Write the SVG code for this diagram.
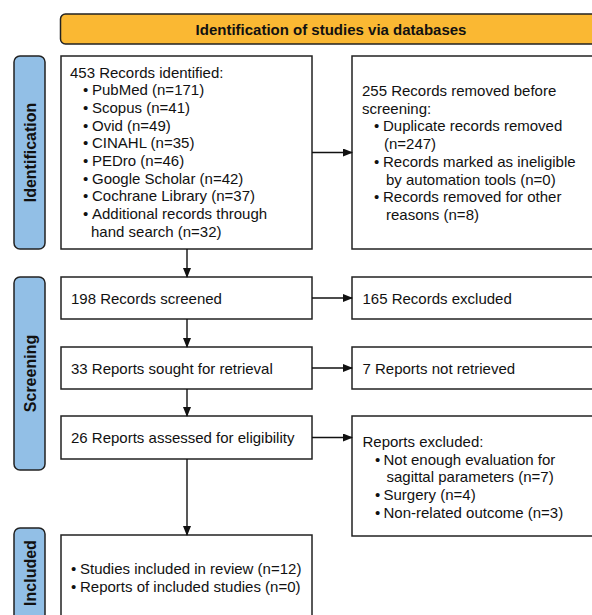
<svg xmlns="http://www.w3.org/2000/svg" width="592" height="615" viewBox="0 0 592 615">
<defs>
<marker id="ah" markerWidth="10" markerHeight="8" refX="9" refY="4" orient="auto" markerUnits="userSpaceOnUse">
<path d="M0,0 L10,4 L0,8 Z" fill="#111"/>
</marker>
</defs>
<style>
text{font-family:"Liberation Sans",Arial,sans-serif;font-size:15px;fill:#111}
.box{fill:#fff;stroke:#222;stroke-width:1.5}
.side{fill:#92bfe6;stroke:#222;stroke-width:1.5}
.banner{fill:#fab833;stroke:#222;stroke-width:1.5}
.b{font-weight:bold}
.s{font-weight:bold;font-size:16px}
.c{stroke:#111;stroke-width:1.4;fill:none;marker-end:url(#ah)}
</style>
<rect width="592" height="615" fill="#fff"/>
<g id="banner">
<rect class="banner" x="60.5" y="14" width="545" height="30" rx="5"/>
<text class="b" x="331" y="34.5" text-anchor="middle">Identification of studies via databases</text>
</g>
<g id="side-identification">
<rect class="side" x="14" y="56" width="31" height="193" rx="6"/>
<text class="s" transform="translate(35.5,152.5) rotate(-90)" text-anchor="middle">Identification</text>
</g>
<g id="side-screening">
<rect class="side" x="14" y="277" width="31" height="193" rx="6"/>
<text class="s" transform="translate(35.5,373.5) rotate(-90)" text-anchor="middle">Screening</text>
</g>
<g id="side-included">
<rect class="side" x="14" y="528" width="31" height="100" rx="6"/>
<text class="s" transform="translate(35.5,573) rotate(-90)" text-anchor="middle">Included</text>
</g>
<g id="identified">
<rect class="box" x="61" y="56" width="251" height="193"/>
<text x="70" y="77.5">453 Records identified:</text>
<text x="83" y="95.2">•</text><text x="92" y="95.2">PubMed (n=171)</text>
<text x="83" y="112.9">•</text><text x="92" y="112.9">Scopus (n=41)</text>
<text x="83" y="130.6">•</text><text x="92" y="130.6">Ovid (n=49)</text>
<text x="83" y="148.3">•</text><text x="92" y="148.3">CINAHL (n=35)</text>
<text x="83" y="166">•</text><text x="92" y="166">PEDro (n=46)</text>
<text x="83" y="183.7">•</text><text x="92" y="183.7">Google Scholar (n=42)</text>
<text x="83" y="201.4">•</text><text x="92" y="201.4">Cochrane Library (n=37)</text>
<text x="83" y="219.1">•</text><text x="92" y="219.1">Additional records through</text>
<text x="91" y="236.8">hand search (n=32)</text>
</g>
<g id="removed">
<rect class="box" x="352" y="56" width="260" height="193"/>
<text x="362" y="96">255 Records removed before</text>
<text x="362" y="113.7">screening:</text>
<text x="374" y="131.4">•</text><text x="383" y="131.4">Duplicate records removed</text>
<text x="384" y="149.1">(n=247)</text>
<text x="374" y="166.8">•</text><text x="383" y="166.8">Records marked as ineligible</text>
<text x="386" y="184.5">by automation tools (n=0)</text>
<text x="374" y="202.2">•</text><text x="383" y="202.2">Records removed for other</text>
<text x="386" y="219.9">reasons (n=8)</text>
</g>
<g id="screened">
<rect class="box" x="61" y="277" width="251" height="42"/>
<text x="71" y="303.5">198 Records screened</text>
</g>
<g id="excluded">
<rect class="box" x="352" y="277" width="260" height="42"/>
<text x="362.5" y="303.5">165 Records excluded</text>
</g>
<g id="sought">
<rect class="box" x="61" y="347" width="251" height="42"/>
<text x="71" y="373.5">33 Reports sought for retrieval</text>
</g>
<g id="notretrieved">
<rect class="box" x="352" y="347" width="260" height="42"/>
<text x="362.5" y="373.5">7 Reports not retrieved</text>
</g>
<g id="assessed">
<rect class="box" x="61" y="416" width="251" height="43"/>
<text x="71" y="443">26 Reports assessed for eligibility</text>
</g>
<g id="reportsexcluded">
<rect class="box" x="352" y="416" width="260" height="120"/>
<text x="362.5" y="447">Reports excluded:</text>
<text x="375" y="464.7">•</text><text x="383.5" y="464.7">Not enough evaluation for</text>
<text x="386.5" y="482.4">sagittal parameters (n=7)</text>
<text x="375" y="500.1">•</text><text x="383.5" y="500.1">Surgery (n=4)</text>
<text x="375" y="517.8">•</text><text x="383.5" y="517.8">Non-related outcome (n=3)</text>
</g>
<g id="included">
<rect class="box" x="61" y="535" width="251" height="100"/>
<text x="71" y="574">•</text><text x="80" y="574">Studies included in review (n=12)</text>
<text x="71" y="592">•</text><text x="80" y="592">Reports of included studies (n=0)</text>
</g>
<g id="connectors">
<line class="c" x1="312" y1="152.5" x2="352" y2="152.5"/>
<line class="c" x1="187" y1="249" x2="187" y2="277"/>
<line class="c" x1="312" y1="298" x2="352" y2="298"/>
<line class="c" x1="187" y1="319" x2="187" y2="347"/>
<line class="c" x1="312" y1="368" x2="352" y2="368"/>
<line class="c" x1="187" y1="389" x2="187" y2="416"/>
<line class="c" x1="312" y1="437.5" x2="352" y2="437.5"/>
<line class="c" x1="187" y1="459" x2="187" y2="535"/>
</g>
</svg>
